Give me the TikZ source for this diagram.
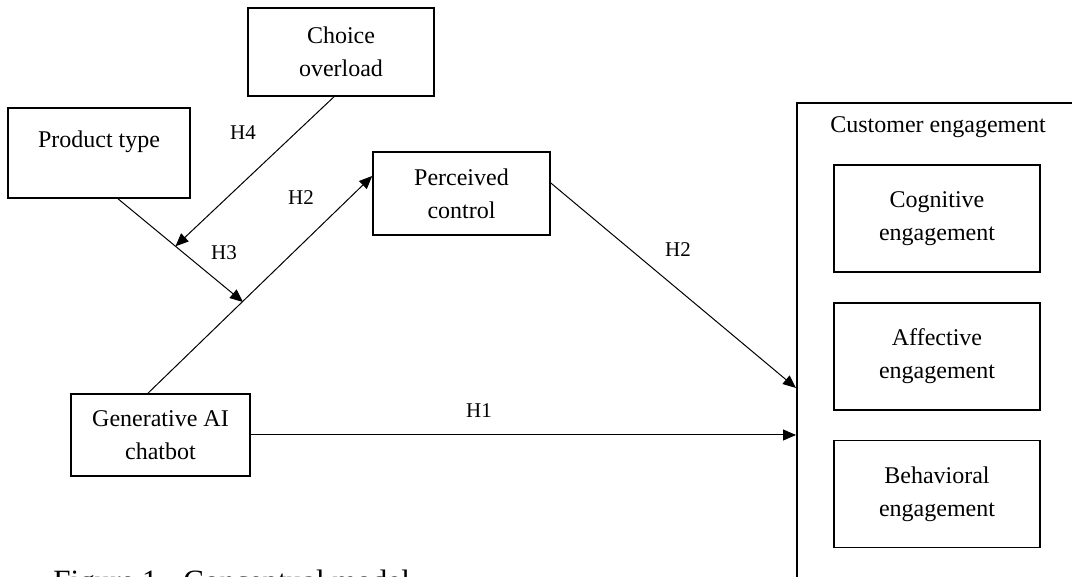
\documentclass[tikz,border=0pt]{standalone}
\usepackage{fontspec}
\setmainfont{Liberation Serif}
\usetikzlibrary{
  arrows.meta,
  calc
}
\tikzset{
  box/.style={draw, line width=0.8pt, align=center, inner sep=0pt,
    font=\fontsize{12}{16.5}\selectfont},
  hyp/.style={inner sep=0pt, font=\fontsize{10.5}{12}\selectfont},
  link/.style={line width=0.5pt, -{Triangle[length=6.5pt,width=5.5pt]}}
}

\begin{document}
\begin{tikzpicture}[x=0.5pt,y=-0.5pt]
        \clip (0,0) rectangle (1072,577);
        \node[box, minimum width=93pt, minimum height=44pt] (choice) at (341,52) {Choice\\overload};
        \node[box, minimum width=91pt, minimum height=45pt] (product) at (99,153) {Product type\\[-8pt]\strut};
        \node[box, minimum width=88.5pt, minimum height=41.5pt] (perceived) at (461.5,193.5) {Perceived\\control};
        \node[box, minimum width=89.5pt, minimum height=41pt] (genai) at (160.5,435) {Generative AI\\chatbot};
        \node[draw, line width=0.8pt, anchor=north west, minimum width=160pt, minimum height=260pt] (engage) at (796,102) {};
        \node[font=\fontsize{12}{16.5}\selectfont, inner sep=0pt] (engtitle) at (938,127) {Customer engagement};
        \node[box, minimum width=103pt, minimum height=53.5pt] (cognitive) at (937,218.5) {Cognitive\\engagement};
        \node[box, minimum width=103pt, minimum height=53.5pt] (affective) at (937,356.5) {Affective\\engagement};
        \node[box, minimum width=103pt, minimum height=53.5pt] (behavioral) at (937,494) {Behavioral\\engagement};
        \coordinate (mod) at (243,302);
        \coordinate (ptfoot) at ($(product.south)+(19,0)$);
        \coordinate (modtwo) at ($(ptfoot)!0.46!(mod)$);
	\draw[link] (ptfoot) -- (mod);
	\draw[link] ($(choice.south)+(-7,0)$) -- (modtwo);
	\draw[link] ($(genai.north)+(-12.5,0)$) -- ($(perceived.west)+(0,-17.5)$);
	\draw[link] ($(perceived.east)+(0,-10.5)$) -- ($(engage.north west)+(0,286)$);
	\draw[link] (genai.east) -- (genai.east -| engage.west);
        \node[hyp] (hfour) at (243,133) {H4};
        \node[hyp] (htwoa) at (301,198) {H2};
        \node[hyp] (hthree) at (224,253) {H3};
        \node[hyp] (htwob) at (678,250) {H2};
        \node[hyp] (hone) at (479,411) {H1};
        \node[anchor=base west, inner sep=0pt, font=\fontsize{15.5}{18}\selectfont] (caption) at (53,591) {Figure 1.~ Conceptual model};
\end{tikzpicture}
\end{document}
